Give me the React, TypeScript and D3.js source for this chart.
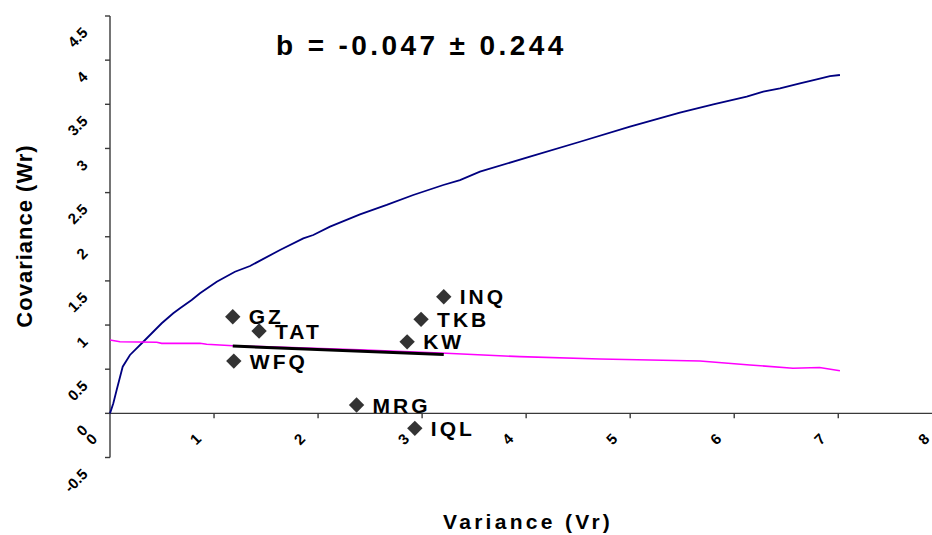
import React from "react";
import * as d3 from "d3";

// Expected covariance curve (upper, navy)
const blueX = [0, 0.032, 0.064, 0.122, 0.192, 0.32, 0.497, 0.608, 0.673, 0.785, 0.865, 1.026, 1.201, 1.346, 1.634, 1.858, 1.954, 2.115, 2.403, 2.66, 2.915, 3.204, 3.364, 3.556, 4.037, 4.518, 4.998, 5.478, 5.799, 6.12, 6.279, 6.44, 6.632, 6.793, 6.92, 7.016];
const blueY = [0, 0.114, 0.264, 0.528, 0.661, 0.811, 1.02, 1.133, 1.19, 1.284, 1.36, 1.491, 1.604, 1.669, 1.85, 1.982, 2.02, 2.114, 2.254, 2.36, 2.473, 2.586, 2.642, 2.737, 2.907, 3.076, 3.246, 3.405, 3.5, 3.586, 3.643, 3.681, 3.738, 3.783, 3.82, 3.832];

// Lower curve (magenta)
const pinkX = [0, 0.096, 0.449, 0.497, 0.865, 0.929, 1.182, 1.6, 2.4, 3.0, 3.23, 3.94, 4.71, 5.671, 6.151, 6.565, 6.82, 7.016];
const pinkY = [0.831, 0.811, 0.805, 0.793, 0.793, 0.782, 0.766, 0.75, 0.72, 0.69, 0.68, 0.642, 0.615, 0.593, 0.548, 0.51, 0.519, 0.483];

// Populations
const popNames = ["GZ", "TAT", "WFQ", "INQ", "TKB", "KW", "MRG", "IQL"];
const popVr = [1.18, 1.433, 1.19, 3.208, 2.99, 2.856, 2.37, 2.93];
const popWr = [1.094, 0.932, 0.592, 1.32, 1.065, 0.81, 0.094, -0.17];

// Regression of Wr on Vr
const slope = -0.047;
const slopeSE = 0.244;
const intercept = 0.817;

const xTicks = [0, 1, 2, 3, 4, 5, 6, 7, 8];
const yTicks = [-0.5, 0, 0.5, 1, 1.5, 2, 2.5, 3, 3.5, 4, 4.5];

const W = 932;
const H = 535;
const FONT = "'Liberation Sans', Arial, Helvetica, sans-serif";

export default function App() {
  const x = d3.scaleLinear().domain([0, 8]).range([110, 942.3]);
  const y = d3.scaleLinear().domain([-0.5, 4.5]).range([457.5, 16]);

  const line = d3
    .line<[number, number]>()
    .x((d) => x(d[0]))
    .y((d) => y(d[1]));

  const bluePts: [number, number][] = blueX.map((v, i) => [v, blueY[i]]);
  const pinkPts: [number, number][] = pinkX.map((v, i) => [v, pinkY[i]]);

  const xMin = d3.min(popVr) as number;
  const xMax = d3.max(popVr) as number;
  const regPts: [number, number][] = [
    [xMin, intercept + slope * xMin],
    [xMax, intercept + slope * xMax],
  ];

  const diamond = d3.symbol().type(d3.symbolSquare).size(118)() as string;

  const axisColor = "#3a3a3a";

  return (
    <svg
      width={W}
      height={H}
      style={{ position: "absolute", left: 0, top: 0, display: "block", background: "#fff" }}
      fontFamily={FONT}
    >
      <rect width={W} height={H} fill="#fff" />

      {/* Title */}
      <text x={276} y={55} fontSize={28} fontWeight="bold" letterSpacing={3.4} fill="#000">
        {`b = ${slope.toFixed(3)} ± ${slopeSE.toFixed(3)}`}
      </text>

      {/* Y axis */}
      <line x1={x(0)} x2={x(0)} y1={y(4.5)} y2={y(-0.5)} stroke={axisColor} strokeWidth={1.4} />
      {yTicks.map((t) => (
        <g key={"yt" + t}>
          <line x1={x(0) - 5} x2={x(0)} y1={y(t)} y2={y(t)} stroke={axisColor} strokeWidth={1.4} />
          <text
            x={85}
            y={y(t) + 14}
            dy="0.35em"
            fontSize={15}
            fontWeight="bold"
            textAnchor="end"
            transform={`rotate(-45 85 ${y(t) + 14})`}
            fill="#000"
          >
            {String(t)}
          </text>
        </g>
      ))}

      {/* X axis */}
      <line x1={x(0)} x2={x(8)} y1={y(0)} y2={y(0)} stroke={axisColor} strokeWidth={1.4} />
      {xTicks.map((t) => (
        <g key={"xt" + t}>
          {t > 0 && (
            <line x1={x(t)} x2={x(t)} y1={y(0)} y2={y(0) + 5} stroke={axisColor} strokeWidth={1.4} />
          )}
          <text
            x={x(t) - 18.5}
            y={439}
            dy="0.35em"
            fontSize={15}
            fontWeight="bold"
            textAnchor="middle"
            transform={`rotate(-45 ${x(t) - 18.5} 439)`}
            fill="#000"
          >
            {String(t)}
          </text>
        </g>
      ))}

      {/* Curves */}
      <path d={line(bluePts) as string} fill="none" stroke="#000080" strokeWidth={1.8} />
      <path d={line(pinkPts) as string} fill="none" stroke="#ff00ff" strokeWidth={1.6} />

      {/* Regression line */}
      <path d={line(regPts) as string} fill="none" stroke="#000" strokeWidth={3} />

      {/* Population points */}
      {popNames.map((name, i) => (
        <g key={name} transform={`translate(${x(popVr[i])},${y(popWr[i])})`}>
          <path d={diamond} transform="rotate(45)" fill="#333333" />
          <text x={16} dy="0.36em" fontSize={21} fontWeight="bold" letterSpacing={3} fill="#000">
            {name}
          </text>
        </g>
      ))}

      {/* Axis titles */}
      <text
        x={32}
        y={236}
        fontSize={22}
        fontWeight="bold"
        letterSpacing={1}
        textAnchor="middle"
        transform="rotate(-90 32 236)"
        fill="#000"
      >
        Covariance (Wr)
      </text>
      <text x={443} y={529} fontSize={21} fontWeight="bold" letterSpacing={3.3} fill="#000">
        Variance (Vr)
      </text>
    </svg>
  );
}
